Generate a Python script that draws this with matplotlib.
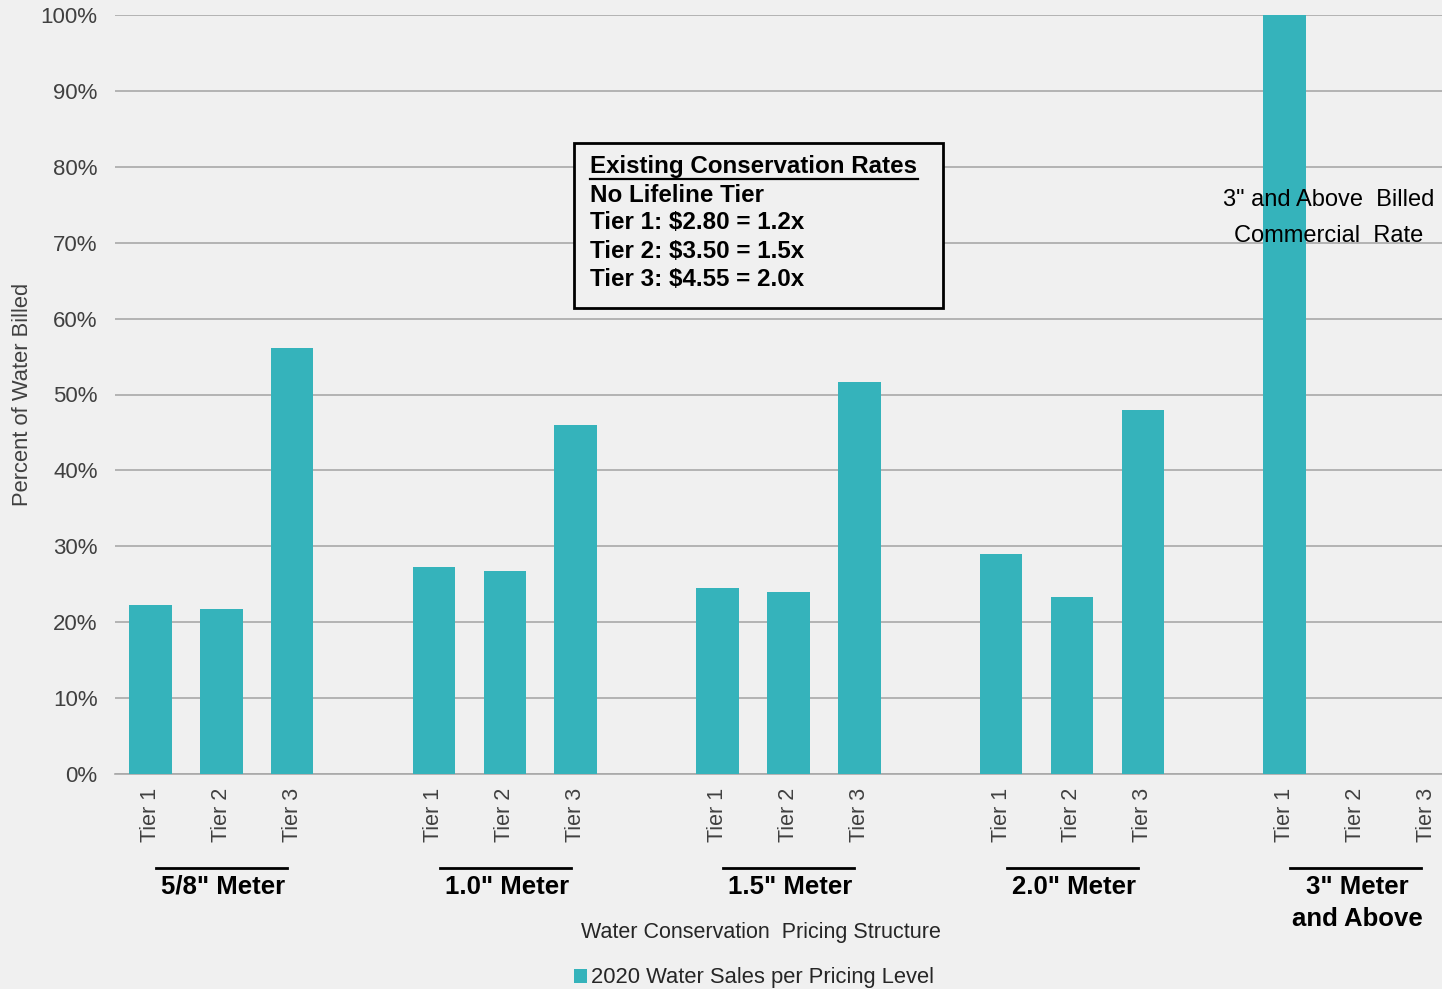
import matplotlib.pyplot as plt
from matplotlib.lines import Line2D
from matplotlib.ticker import PercentFormatter

plt.rcParams['font.family'] = ['Liberation Sans', 'DejaVu Sans']

# share of water billed at each tier, by meter size
meters = ['5/8" Meter', '1.0" Meter', '1.5" Meter', '2.0" Meter', '3" Meter\nand Above']
tiers = ['Tier 1', 'Tier 2', 'Tier 3']
tier_share = [
    [22.3, 21.7, 56.1],
    [27.3, 26.7, 46.0],
    [24.5, 24.0, 51.6],
    [29.0, 23.3, 48.0],
    [100.0, 0.0, 0.0],
]
rate_lines = ['Existing Conservation Rates', 'No Lifeline Tier', 'Tier 1: $2.80 = 1.2x',
              'Tier 2: $3.50 = 1.5x', 'Tier 3: $4.55 = 2.0x']

bar_color = '#35b3bb'
bg = '#f0f0f0'
W, H = 1442, 989

fig = plt.figure(figsize=(W / 100, H / 100), dpi=100, facecolor=bg)
ax = fig.add_axes([115 / W, 215 / H, 1 - 115 / W, 759 / H])
ax.set_facecolor(bg)

# three tiers per meter, one empty slot between meters
xs, heights, labels = [], [], []
for g, vals in enumerate(tier_share):
    for t, v in enumerate(vals):
        xs.append(g * 4 + t)
        heights.append(v)
        labels.append(tiers[t])

ax.bar(xs, heights, width=0.6, color=bar_color, zorder=3,
       label='2020 Water Sales per Pricing Level')

ax.set_xlim(-0.5, (W - 152) / 70.8)
ax.set_ylim(0, 100)
ax.set_yticks(range(0, 101, 10))
ax.yaxis.set_major_formatter(PercentFormatter(decimals=0))
ax.set_xticks(xs)
ax.set_xticklabels(labels, rotation=90, va='top', ha='center')
ax.tick_params(axis='x', length=0, pad=10, labelsize=15.5, labelcolor='#404040')
ax.tick_params(axis='y', length=0, pad=12.5, labelsize=16, labelcolor='#404040')
ax.grid(axis='y', color='#a8a8a8', lw=1.2, zorder=0)
for s in ['top', 'right', 'left']:
    ax.spines[s].set_visible(False)
ax.spines['bottom'].set_color('#a8a8a8')
ax.spines['bottom'].set_linewidth(1.2)

ax.set_ylabel('Percent of Water Billed', fontsize=15.8, color='#404040')
ax.yaxis.set_label_coords((33 - 115) / 1327, 0.5)

# meter group labels with a bar above each
xt = ax.get_xaxis_transform()
for g, name in enumerate(meters):
    mid = g * 4 + 1
    ax.add_line(Line2D([mid - 0.92, mid + 0.93], [-0.124, -0.124], transform=xt,
                       color='black', lw=2, clip_on=False))
    ax.text(mid + 0.03, -0.133, name, transform=xt, ha='center', va='top',
            fontsize=18.5, fontweight='bold', linespacing=1.4, clip_on=False)

ax.text(0.487, -0.209, 'Water Conservation  Pricing Structure', transform=ax.transAxes,
        ha='center', va='center', fontsize=15.5, color='#262626')

fig.legend(loc='center', bbox_to_anchor=(754 / W, 1 - 978 / H), frameon=False,
           fontsize=15.8, handlelength=0.6, handleheight=0.6, handletextpad=0.2,
           labelcolor='#262626')

# existing rates box
fig.patches.append(plt.Rectangle((574 / W, 1 - 308 / H), 369 / W, 165 / H,
                                 transform=fig.transFigure, facecolor=bg,
                                 edgecolor='black', lw=2, zorder=4))
for line, base in zip(rate_lines, [172.7, 201.7, 229.3, 257.7, 286]):
    fig.text(590 / W, 1 - base / H, line, ha='left', va='baseline', fontsize=17.4,
             fontweight='bold', zorder=6)
fig.add_artist(Line2D([590 / W, 918 / W], [1 - 178.5 / H, 1 - 178.5 / H],
                      color='black', lw=1.6, zorder=6))

ax.text(16.62, 73.25, '3" and Above  Billed\nCommercial  Rate', ha='center', va='center',
        fontsize=17, linespacing=1.82, zorder=4)

fig.savefig('out.png', dpi=100, facecolor=bg)
